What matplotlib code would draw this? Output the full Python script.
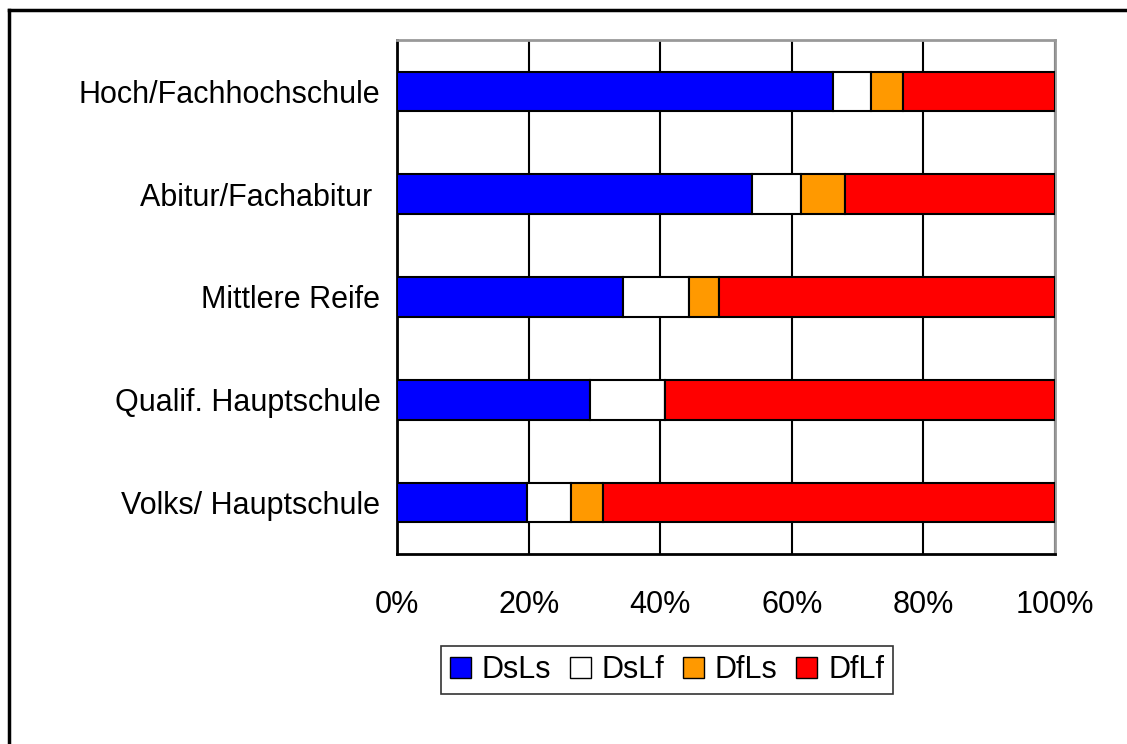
import matplotlib.pyplot as plt
from matplotlib.lines import Line2D
from matplotlib.ticker import FuncFormatter

plt.rcParams['font.family'] = ['Liberation Sans', 'DejaVu Sans']

schools = ['Hoch/Fachhochschule', 'Abitur/Fachabitur ', 'Mittlere Reife',
           'Qualif. Hauptschule', 'Volks/ Hauptschule']
dsls = [66.3, 53.9, 34.4, 29.4, 19.8]
dslf = [5.8, 7.5, 10.0, 11.3, 6.7]
dfls = [4.8, 6.7, 4.6, 0.0, 4.8]
dflf = [23.1, 31.9, 51.0, 59.3, 68.7]

series = [('DsLs', dsls, '#0000FF'), ('DsLf', dslf, '#FFFFFF'),
          ('DfLs', dfls, '#FF9900'), ('DfLf', dflf, '#FF0000')]

fig = plt.figure(figsize=(11.27, 7.44), dpi=100)
ax = fig.add_axes([0.3523, 0.2554, 0.5838, 0.6909])

ypos = list(range(len(schools)))
left = [0.0] * len(schools)
for name, vals, col in series:
    ax.barh(ypos, vals, left=left, height=0.385, color=col,
            edgecolor='black', linewidth=1.5, label=name, zorder=3)
    left = [l + v for l, v in zip(left, vals)]

ax.set_xlim(0, 100)
ax.set_ylim(4.5, -0.5)
ax.set_yticks(ypos)
ax.set_yticklabels(schools, fontsize=22)
ax.set_xticks([0, 20, 40, 60, 80, 100])
ax.xaxis.set_major_formatter(FuncFormatter(lambda v, p: f'{v:.0f}%'))
ax.tick_params(axis='x', length=0, pad=26, labelsize=22)
ax.tick_params(axis='y', length=0, pad=12)
ax.grid(axis='x', color='black', linewidth=1.5, zorder=0)

for side in ['left', 'bottom']:
    ax.spines[side].set_color('black')
    ax.spines[side].set_linewidth(2)
for side in ['top', 'right']:
    ax.spines[side].set_color('#999999')
    ax.spines[side].set_linewidth(2)

leg = fig.legend(loc='center', bbox_to_anchor=(0.5918, 0.0995), ncol=4,
                 fontsize=22, frameon=True, fancybox=False,
                 handlelength=0.7, handleheight=0.7, handletextpad=0.35,
                 columnspacing=0.6, borderpad=0.3, borderaxespad=0)
leg.get_frame().set_edgecolor('black')
leg.get_frame().set_linewidth(1.2)
for h in leg.legend_handles:
    h.set_linewidth(1.0)

# chart border: only left and top edges are inside the image
x0, y0 = 9 / 1127, 1 - 10 / 744
fig.add_artist(Line2D([x0, x0], [0, y0], transform=fig.transFigure,
                      color='black', linewidth=2.5))
fig.add_artist(Line2D([x0, 1], [y0, y0], transform=fig.transFigure,
                      color='black', linewidth=2.5))

fig.savefig('out.png', dpi=100)
